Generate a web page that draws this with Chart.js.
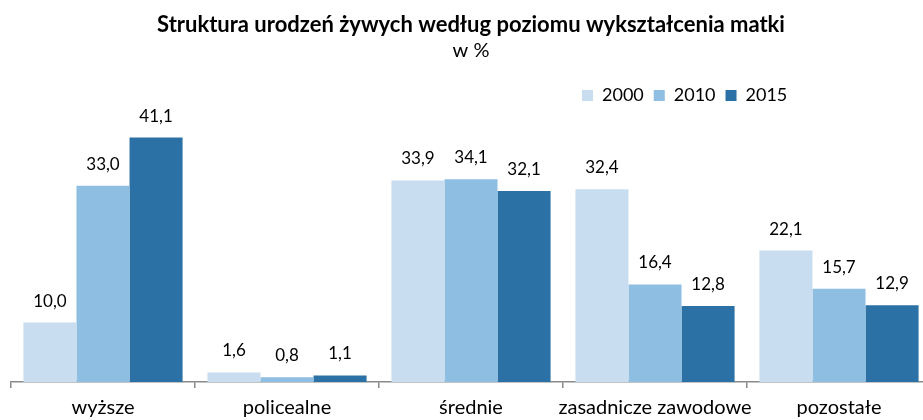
<!DOCTYPE html>
<html lang="pl">
<head>
<meta charset="utf-8">
<title>Struktura urodzeń żywych według poziomu wykształcenia matki</title>
<script src="https://cdn.jsdelivr.net/npm/chart.js@4/dist/chart.umd.min.js"></script>
<style>
  html, body { margin: 0; padding: 0; background: #fff; overflow: hidden; }
  #wrap { width: 936px; height: 420px; overflow: hidden; }
</style>
</head>
<body>
<div id="wrap"><canvas id="chart" width="936" height="429"></canvas></div>
<script>
// ─── Data ──────────────────────────────────────────────────────────────────────
const categories = ['wyższe', 'policealne', 'średnie', 'zasadnicze zawodowe', 'pozostałe'];
const seriesNames = ['2000', '2010', '2015'];
const values2000 = [10.0, 1.6, 33.9, 32.4, 22.1];
const values2010 = [33.0, 0.8, 34.1, 16.4, 15.7];
const values2015 = [41.1, 1.1, 32.1, 12.8, 12.9];
const colors = ['#c8def0', '#8ebee2', '#2b71a6'];

const FONT = 'Lato';
const fmt = v => v.toFixed(1).replace('.', ',');

// ─── Value labels above bars ──────────────────────────────────────────────────
const valueLabels = {
  id: 'valueLabels',
  afterDatasetsDraw(chart) {
    const ctx = chart.ctx;
    ctx.save();
    ctx.font = `17px ${FONT}`;
    ctx.fillStyle = '#000';
    ctx.textAlign = 'center';
    ctx.textBaseline = 'alphabetic';
    chart.data.datasets.forEach((ds, i) => {
      chart.getDatasetMeta(i).data.forEach((bar, j) => {
        ctx.fillText(fmt(ds.data[j]), bar.x, bar.y - 16);
      });
    });
    ctx.restore();
  }
};

// Legend sits right of centre, not at an edge
const legendShift = {
  id: 'legendShift',
  afterLayout(chart) {
    if (chart.legend) chart.legend.left = 572;
  }
};

new Chart(document.getElementById('chart'), {
  type: 'bar',
  data: {
    labels: categories,
    datasets: [values2000, values2010, values2015].map((vals, i) => ({
      label: seriesNames[i],
      data: vals,
      backgroundColor: colors[i],
      borderWidth: 0,
      barPercentage: 1,
      categoryPercentage: 0.865
    }))
  },
  options: {
    responsive: false,
    animation: false,
    layout: { padding: { left: 11, right: 5, top: 0, bottom: 1 } },
    plugins: {
      title: {
        display: true,
        text: 'Struktura urodzeń żywych według poziomu wykształcenia matki',
        color: '#000',
        font: { family: FONT, size: 22, weight: 'bold' },
        padding: { top: 12, bottom: 0 }
      },
      subtitle: {
        display: true,
        text: 'w %',
        color: '#000',
        font: { family: FONT, size: 20 },
        padding: { top: 0, bottom: 14 }
      },
      legend: {
        position: 'top',
        align: 'start',
        labels: {
          color: '#000',
          font: { family: FONT, size: 18 },
          boxWidth: 11,
          boxHeight: 11,
          padding: 10
        }
      },
      tooltip: { enabled: false }
    },
    scales: {
      x: {
        grid: {
          offset: true,
          drawOnChartArea: false,
          drawTicks: true,
          tickLength: 6,
          color: '#898989',
          lineWidth: 1.5
        },
        border: { display: true, color: '#898989', width: 1.5 },
        ticks: {
          color: '#000',
          font: { family: FONT, size: 20 },
          padding: 8,
          maxRotation: 0,
          autoSkip: false
        }
      },
      y: {
        display: false,
        min: 0,
        max: 45
      }
    }
  },
  plugins: [valueLabels, legendShift]
});
</script>
</body>
</html>
